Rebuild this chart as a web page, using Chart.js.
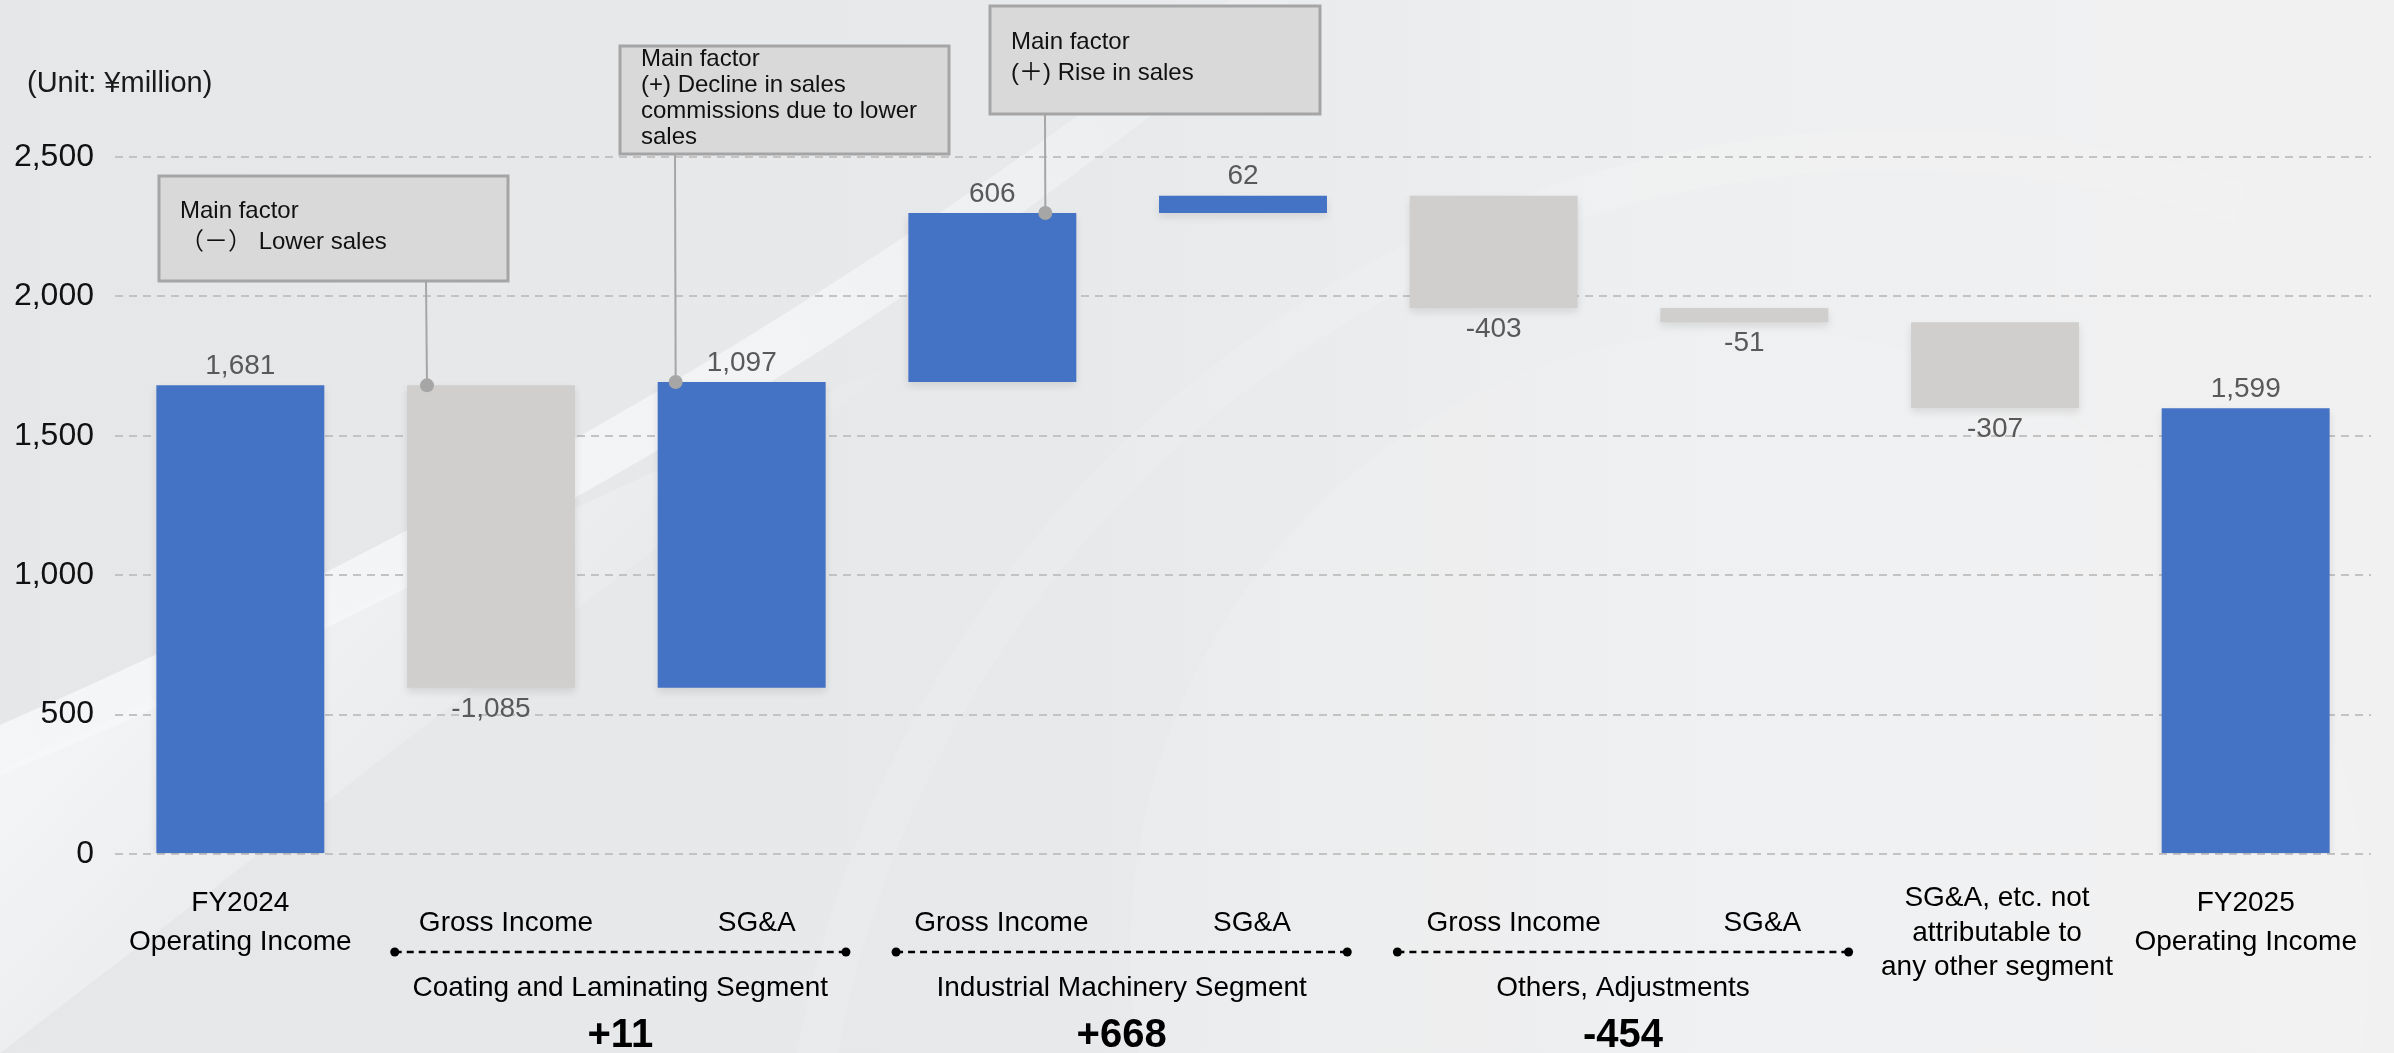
<!DOCTYPE html>
<html>
<head>
<meta charset="utf-8">
<script src="https://cdn.jsdelivr.net/npm/chart.js@4.4.1/dist/chart.umd.min.js"></script>
<style>
  html, body { margin: 0; padding: 0; background: #e8e9eb; }
  #wrap { width: 2394px; height: 1053px; }
</style>
</head>
<body>
<div id="wrap"><canvas id="chart" width="2394" height="1053"></canvas></div>
<script>
// data (unit: ¥ million)
const categories = [
  ["FY2024", "Operating Income"],
  ["Gross Income"],
  ["SG&A"],
  ["Gross Income"],
  ["SG&A"],
  ["Gross Income"],
  ["SG&A"],
  ["SG&A, etc. not", "attributable to", "any other segment"],
  ["FY2025", "Operating Income"]
];
const changes = [1681, -1085, 1097, 606, 62, -403, -51, -307, 1599];
const barKinds = ["total", "step", "step", "step", "step", "step", "step", "step", "total"];
const yTicks = [0, 500, 1000, 1500, 2000, 2500];

const segmentNames = ["Coating and Laminating Segment", "Industrial Machinery Segment", "Others, Adjustments"];
const segmentTotals = ["+11", "+668", "-454"];
const segmentBars = [[1, 2], [3, 4], [5, 6]];

const calloutTexts = [
  ["Main factor", "（－） Lower sales"],
  ["Main factor", "(+) Decline in sales", "commissions due to lower", "sales"],
  ["Main factor", "(＋) Rise in sales"]
];
const calloutBars = [1, 2, 3];

const BLUE = "#4472c4";
const GREY = "#d0cfce";
const FONT = '"Liberation Sans", "Noto Sans CJK JP", sans-serif';

// floating ranges for the waterfall
let running = 0;
const ranges = changes.map((v, i) => {
  if (barKinds[i] === "total") { running = v; return [0, v]; }
  const r = [running, running + v];
  running += v;
  return r;
});
const barColors = changes.map((v, i) => (barKinds[i] === "total" || v > 0) ? BLUE : GREY);

// callout box placement (pixels), dot offset from bar centre
const calloutLayout = [
  { left: 159, top: 176, w: 349, h: 105, dx: -64, lead: 267, lh: 31 },
  { left: 620, top: 46, w: 329, h: 108, dx: -66, lead: 55, lh: 26 },
  { left: 990, top: 6, w: 330, h: 108, dx: 53, lead: 55, lh: 31 }
];
// small horizontal nudges of the sub labels under the axis
const labelNudge = [0, 15, 15, 9, 9, 20, 18, 2, 0];

const backgroundPlugin = {
  id: "bg",
  beforeDraw(chart) {
    const ctx = chart.ctx, W = chart.width, H = chart.height;
    ctx.save();
    const g = ctx.createLinearGradient(0, 0, W, 0);
    g.addColorStop(0, "#e6e7e9");
    g.addColorStop(0.45, "#e8e9eb");
    g.addColorStop(0.7, "#eeeff0");
    g.addColorStop(1, "#f1f1f2");
    ctx.fillStyle = g;
    ctx.fillRect(0, 0, W, H);
    // lighter area in the lower left corner
    ctx.beginPath();
    ctx.moveTo(0, 770);
    ctx.lineTo(900, 360);
    ctx.lineTo(0, 1053);
    ctx.closePath();
    const g2 = ctx.createLinearGradient(0, 780, 300, 1053);
    g2.addColorStop(0, "rgba(245,246,247,0.9)");
    g2.addColorStop(1, "rgba(245,246,247,0)");
    ctx.fillStyle = g2;
    ctx.fill();
    // diagonal white stripe
    ctx.beginPath();
    ctx.moveTo(0, 725);
    ctx.quadraticCurveTo(700, 420, 1230, 0);
    ctx.lineTo(1290, 0);
    ctx.quadraticCurveTo(760, 460, 0, 775);
    ctx.closePath();
    const g3 = ctx.createLinearGradient(0, 750, 1260, 0);
    g3.addColorStop(0, "rgba(246,247,248,0.9)");
    g3.addColorStop(0.6, "rgba(246,247,248,0.75)");
    g3.addColorStop(1, "rgba(246,247,248,0.2)");
    ctx.fillStyle = g3;
    ctx.fill();
    // faint curved shapes on the right
    ctx.beginPath();
    ctx.arc(1900, 1250, 1100, Math.PI * 1.05, Math.PI * 1.6);
    ctx.strokeStyle = "rgba(255,255,255,0.12)";
    ctx.lineWidth = 40;
    ctx.stroke();
    ctx.beginPath();
    ctx.arc(1750, 950, 620, 0, Math.PI * 2);
    ctx.fillStyle = "rgba(255,255,255,0.10)";
    ctx.fill();
    ctx.restore();
  }
};

const overlayPlugin = {
  id: "overlay",
  beforeDatasetsDraw(chart) {
    const ctx = chart.ctx;
    ctx.save();
    ctx.shadowColor = "rgba(0,0,0,0.10)";
    ctx.shadowBlur = 8;
    ctx.shadowOffsetY = 4;
  },
  afterDatasetsDraw(chart) {
    const ctx = chart.ctx;
    ctx.restore();
    const meta = chart.getDatasetMeta(0);
    const x = chart.scales.x, y = chart.scales.y;
    const area = chart.chartArea;

    // value labels
    ctx.save();
    ctx.font = "28px " + FONT;
    ctx.fillStyle = "#595959";
    ctx.textAlign = "center";
    ctx.textBaseline = "middle";
    meta.data.forEach((bar, i) => {
      const top = Math.min(bar.y, bar.base), bottom = Math.max(bar.y, bar.base);
      const txt = changes[i].toLocaleString("en-US");
      if (changes[i] >= 0) ctx.fillText(txt, bar.x, top - 19);
      else ctx.fillText(txt, bar.x, bottom + 21);
    });
    ctx.restore();

    // callouts
    ctx.save();
    calloutTexts.forEach((lines, k) => {
      const L = calloutLayout[k];
      const bar = meta.data[calloutBars[k]];
      const dotX = bar.x + L.dx;
      const dotY = y.getPixelForValue(Math.max(...ranges[calloutBars[k]]));
      const lineX = L.left + L.lead;
      ctx.strokeStyle = "#a6a6a6";
      ctx.lineWidth = 2;
      ctx.beginPath();
      ctx.moveTo(lineX, L.top + L.h);
      ctx.lineTo(dotX, dotY);
      ctx.stroke();
      ctx.fillStyle = "#a6a6a6";
      ctx.beginPath();
      ctx.arc(dotX, dotY, 7, 0, Math.PI * 2);
      ctx.fill();
      ctx.fillStyle = "#d9d9d9";
      ctx.fillRect(L.left, L.top, L.w, L.h);
      ctx.strokeStyle = "#a5a5a5";
      ctx.lineWidth = 3;
      ctx.strokeRect(L.left, L.top, L.w, L.h);
      ctx.fillStyle = "#111";
      ctx.font = "24px " + FONT;
      ctx.textAlign = "left";
      ctx.textBaseline = "middle";
      const cy = L.top + L.h / 2 - 2;
      lines.forEach((t, j) => {
        ctx.fillText(t, L.left + 21, cy + (j - (lines.length - 1) / 2) * L.lh);
      });
    });
    ctx.restore();

    // category labels under the axis
    ctx.save();
    ctx.fillStyle = "#000";
    ctx.font = "28px " + FONT;
    ctx.textAlign = "center";
    ctx.textBaseline = "middle";
    categories.forEach((lines, i) => {
      const px = x.getPixelForValue(i) + labelNudge[i];
      const lh = lines.length === 3 ? 34.5 : 39;
      const cy = area.bottom + (lines.length === 3 ? 79 : 69);
      lines.forEach((t, j) => ctx.fillText(t, px, cy + (j - (lines.length - 1) / 2) * lh));
    });

    // segment brackets
    const step = x.getPixelForValue(1) - x.getPixelForValue(0);
    segmentBars.forEach((pair, k) => {
      const mid = (x.getPixelForValue(pair[0]) + x.getPixelForValue(pair[1])) / 2 + 4;
      const x0 = mid - step * 0.9, x1 = mid + step * 0.9;
      const ly = area.bottom + 98;
      ctx.strokeStyle = "#000";
      ctx.lineWidth = 2.5;
      ctx.setLineDash([7, 5]);
      ctx.beginPath();
      ctx.moveTo(x0, ly);
      ctx.lineTo(x1, ly);
      ctx.stroke();
      ctx.setLineDash([]);
      ctx.fillStyle = "#000";
      [x0, x1].forEach(dx => { ctx.beginPath(); ctx.arc(dx, ly, 4.5, 0, Math.PI * 2); ctx.fill(); });
      ctx.font = "28px " + FONT;
      ctx.fillText(segmentNames[k], mid, area.bottom + 134);
      ctx.font = "bold 40px " + FONT;
      ctx.fillText(segmentTotals[k], mid, area.bottom + 182);
    });
    ctx.restore();

    // unit label
    ctx.save();
    ctx.fillStyle = "#1a1a1a";
    ctx.font = "29px " + FONT;
    ctx.textAlign = "left";
    ctx.textBaseline = "middle";
    ctx.fillText("(Unit: ¥million)", 27, 84);
    ctx.restore();
  }
};

new Chart(document.getElementById("chart"), {
  type: "bar",
  data: {
    labels: categories.map(c => c.join(" ")),
    datasets: [{
      data: ranges,
      backgroundColor: barColors,
      borderWidth: 0,
      categoryPercentage: 1,
      barPercentage: 0.67
    }]
  },
  options: {
    responsive: false,
    animation: false,
    devicePixelRatio: 1,
    layout: { padding: { top: 157, bottom: 199, left: 0, right: 23 } },
    plugins: { legend: { display: false }, tooltip: { enabled: false } },
    scales: {
      x: { display: false },
      y: {
        min: 0,
        max: 2500,
        afterFit: s => { s.width = 115; },
        afterBuildTicks: s => { s.ticks = yTicks.map(v => ({ value: v })); },
        grid: { color: "#c3c3c3", lineWidth: 2, drawTicks: false },
        border: { display: false, dash: [8, 6] },
        ticks: {
          padding: 21,
          color: "#111",
          font: { family: FONT, size: 32 },
          callback: v => v.toLocaleString("en-US")
        }
      }
    }
  },
  plugins: [backgroundPlugin, overlayPlugin]
});
</script>
</body>
</html>
